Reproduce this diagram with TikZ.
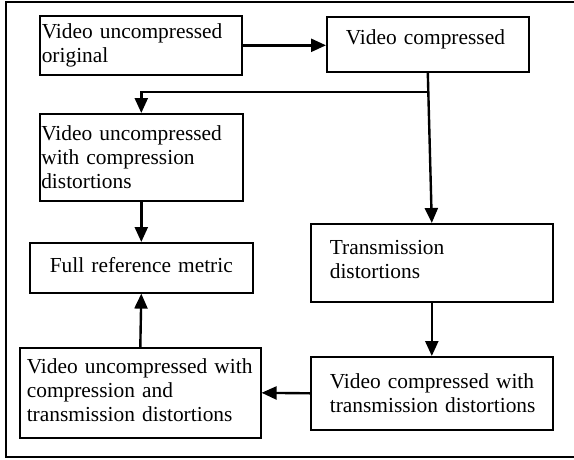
\documentclass[tikz,border=0pt]{standalone}
\usepackage{fontspec}
\setmainfont{Liberation Serif}
\usetikzlibrary{arrows.meta}
\newcommand{\dn}[1]{\rule[-#1]{0pt}{1pt}}
\begin{document}
\begin{tikzpicture}[x=1pt,y=-1pt,
  box/.style={draw,line width=1.6pt,rectangle,anchor=north west,align=left,
    font=\fontsize{21.4}{24}\selectfont,inner ysep=0pt},
  arr/.style={line width=2.4pt,-{Triangle[length=15pt,width=13pt]}},
  frame/.style={draw,line width=1.2pt}]
\useasboundingbox (0,0) rectangle (574,459);
\draw[frame] (576,2) -- (6,2) -- (6,457) -- (576,457);
\node[box,inner xsep=2pt,text width=198pt,minimum height=59pt] (A) at (39,15)
  {\mbox{Video uncompressed}\\\mbox{original}};
\node[box,inner xsep=19pt,text width=164pt,minimum height=55pt] (B) at (326,16)
  {\mbox{Video compressed}\dn{13.7pt}};
\node[box,inner xsep=1.5pt,text width=200pt,minimum height=87pt] (C) at (39,113)
  {\mbox{Video uncompressed}\\\mbox{with compression}\\\mbox{distortions}};
\node[box,align=center,inner xsep=2pt,text width=219pt,minimum height=50pt] (D) at (29,242)
  {\mbox{Full reference metric}\dn{6pt}};
\node[box,inner xsep=19pt,text width=204pt,minimum height=78pt] (E) at (310,223)
  {\mbox{Transmission}\\\mbox{distortions}\dn{7pt}};
\node[box,inner xsep=19pt,text width=204pt,minimum height=73pt] (F) at (310,356)
  {\mbox{Video compressed with}\\\mbox{transmission distortions}};
\node[box,inner xsep=7pt,text width=227pt,minimum height=90pt] (G) at (19,347)
  {\mbox{Video uncompressed with}\\\mbox{compression and}\\\mbox{transmission distortions}\dn{5pt}};
\coordinate (J) at (427.5,92);
\draw[arr] (A.east) -- (A.east -| B.west);
\draw[arr] (B.south) -- (E.north);
\draw[arr] (J) -| (C.north);
\draw[arr] (C.south) -- (D.north);
\draw[arr] (E.south) -- (F.north);
\draw[arr] (F.west) -- (G.east);
\draw[arr] (G.north) -- (D.south);
\end{tikzpicture}
\end{document}
